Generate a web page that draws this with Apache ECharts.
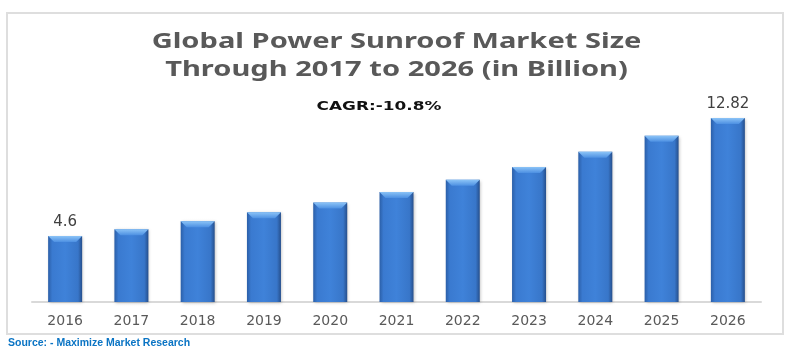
<!DOCTYPE html>
<html>
<head>
<meta charset="utf-8">
<script src="https://cdn.jsdelivr.net/npm/echarts@6/dist/echarts.min.js"></script>
<style>html,body{margin:0;padding:0;background:#fff;}#c{width:800px;height:357px;}</style>
</head>
<body>
<div id="c"></div>
<script>
var categories = ['2016','2017','2018','2019','2020','2021','2022','2023','2024','2025','2026'];
var marketSize = [4.6, 5.07, 5.63, 6.25, 6.93, 7.67, 8.51, 9.41, 10.46, 11.58, 12.82];
var labelledYears = ['2016','2026'];
var titleLine1 = 'Global Power Sunroof Market Size';
var titleLine2 = 'Through 2017 to 2026 (in Billion)';
var cagrText = 'CAGR:-10.8%';
var sourceText = 'Source: - Maximize Market Research';

var chart = echarts.init(document.getElementById('c'), null, {renderer: 'canvas'});
var barColor = new echarts.graphic.LinearGradient(0, 0, 1, 0, [
  {offset: 0, color: '#2b5fa8'},
  {offset: 0.12, color: '#3a7ad0'},
  {offset: 0.5, color: '#3f82d9'},
  {offset: 0.88, color: '#3876c9'},
  {offset: 1, color: '#264f8c'}
]);
var capColor = new echarts.graphic.LinearGradient(0, 0, 0, 1, [
  {offset: 0, color: '#8cc4f7'},
  {offset: 1, color: '#4d90e2'}
]);
var titleFont = 'bold 21px "Noto Sans"';
var titleScale = 1.385;
chart.setOption({
  animation: false,
  backgroundColor: '#ffffff',
  graphic: [
    {
      type: 'rect',
      shape: {x: 7, y: 13, width: 776, height: 321},
      style: {fill: 'none', stroke: '#dedede', lineWidth: 2},
      z: -1
    },
    {
      type: 'text',
      x: 396.5, y: 42,
      scaleX: titleScale,
      style: {text: titleLine1, font: titleFont, fill: '#595959', textAlign: 'center', textVerticalAlign: 'middle'}
    },
    {
      type: 'text',
      x: 396.5, y: 70,
      scaleX: titleScale,
      style: {text: titleLine2, font: titleFont, fill: '#595959', textAlign: 'center', textVerticalAlign: 'middle'}
    },
    {
      type: 'text',
      x: 379, y: 107,
      scaleX: 1.3,
      style: {text: cagrText, font: 'bold 13px "DejaVu Sans"', fill: '#111111', textAlign: 'center', textVerticalAlign: 'middle'}
    },
    {
      type: 'text',
      left: 8,
      top: 338,
      style: {text: sourceText, font: 'bold 10.5px "Liberation Sans"', fill: '#0a74c4'}
    }
  ],
  grid: {left: 32, right: 39, top: 101, bottom: 55},
  xAxis: {
    type: 'category',
    data: categories,
    axisTick: {show: false},
    axisLine: {lineStyle: {color: '#d9d9d9', width: 2}},
    axisLabel: {
      color: '#595959',
      fontFamily: 'DejaVu Sans',
      fontSize: 14,
      margin: 12
    }
  },
  yAxis: {
    type: 'value',
    min: 0,
    max: 14,
    show: false,
    splitLine: {show: false}
  },
  series: [{
    type: 'bar',
    data: marketSize.map(function (v, i) {
      return {
        value: v,
        label: {show: labelledYears.indexOf(categories[i]) >= 0}
      };
    }),
    barWidth: 34,
    barGap: '-100%',
    itemStyle: {
      color: barColor,
      shadowColor: 'rgba(0,0,0,0.25)',
      shadowBlur: 3,
      shadowOffsetX: 1,
      shadowOffsetY: 1
    },
    label: {
      position: 'top',
      distance: 6,
      color: '#404040',
      fontFamily: 'DejaVu Sans',
      fontSize: 15
    }
  }, {
    type: 'pictorialBar',
    data: marketSize,
    barWidth: 34,
    barGap: '-100%',
    symbol: 'path://M0,0 L34,0 L28,6 L6,6 Z',
    symbolSize: [34, 6],
    symbolPosition: 'end',
    symbolOffset: [0, 0],
    itemStyle: {color: capColor},
    silent: true,
    z: 3
  }]
});
</script>
</body>
</html>
